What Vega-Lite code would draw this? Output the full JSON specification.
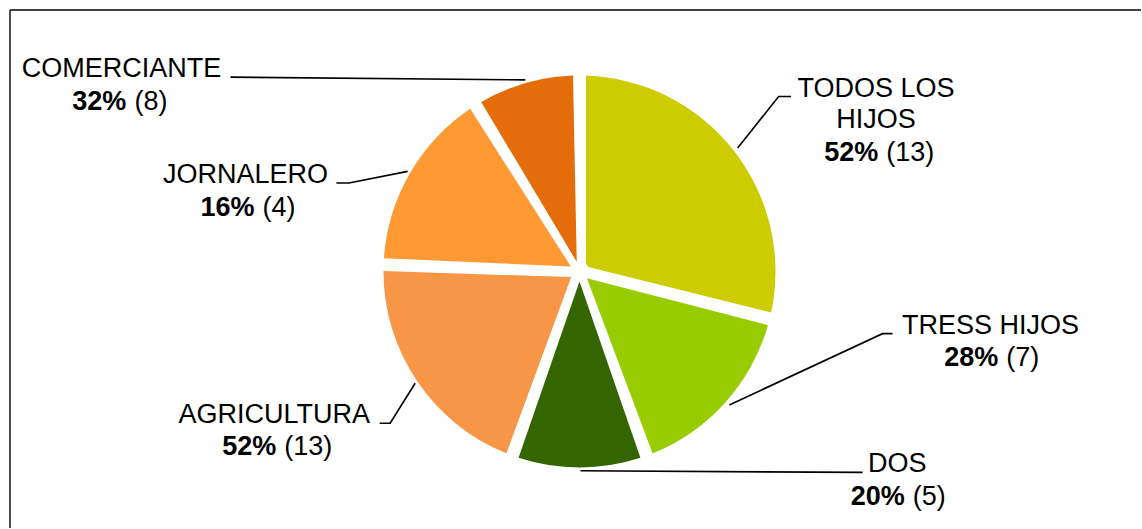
{
  "$schema": "https://vega.github.io/schema/vega-lite/v6.json",
  "width": 1142,
  "height": 529,
  "autosize": {"type": "fit", "contains": "padding"},
  "padding": 0,
  "background": "white",
  "config": {"view": {"stroke": null}, "font": "Liberation Sans"},
  "datasets": {
    "sectores": [
      {"categoria": "TODOS LOS HIJOS", "valor": 13, "orden": 1},
      {"categoria": "TRESS HIJOS", "valor": 7, "orden": 2},
      {"categoria": "DOS", "valor": 5, "orden": 3},
      {"categoria": "AGRICULTURA", "valor": 9, "orden": 4},
      {"categoria": "JORNALERO", "valor": 7, "orden": 5},
      {"categoria": "COMERCIANTE", "valor": 4, "orden": 6}
    ],
    "nombres": [
      {"t": "COMERCIANTE", "x": -458.5, "y": 194.7},
      {"t": "JORNALERO", "x": -334.2, "y": 88.7},
      {"t": "TODOS LOS", "x": 296.7, "y": 175.3},
      {"t": "HIJOS", "x": 296.7, "y": 143.7},
      {"t": "TRESS HIJOS", "x": 411.3, "y": -62.3},
      {"t": "DOS", "x": 318, "y": -201.3},
      {"t": "AGRICULTURA", "x": -305.5, "y": -152}
    ],
    "cifras": [
      {"pct": "32%", "n": "(8)", "x": -449.5, "y": 162},
      {"pct": "16%", "n": "(4)", "x": -321.2, "y": 56},
      {"pct": "52%", "n": "(13)", "x": 303, "y": 110.3},
      {"pct": "28%", "n": "(7)", "x": 423.2, "y": -94.7},
      {"pct": "20%", "n": "(5)", "x": 329.5, "y": -233.7},
      {"pct": "52%", "n": "(13)", "x": -299.5, "y": -184}
    ],
    "guias": [
      {"id": "COMERCIANTE", "k": 1, "x": -349.3, "y": 194.7},
      {"id": "COMERCIANTE", "k": 2, "x": -54.3, "y": 192},
      {"id": "JORNALERO", "k": 1, "x": -243.3, "y": 88.7},
      {"id": "JORNALERO", "k": 2, "x": -230.7, "y": 88.7},
      {"id": "JORNALERO", "k": 3, "x": -172, "y": 100.3},
      {"id": "TODOS", "k": 1, "x": 211.7, "y": 175.3},
      {"id": "TODOS", "k": 2, "x": 199.3, "y": 175.3},
      {"id": "TODOS", "k": 3, "x": 158.3, "y": 123.7},
      {"id": "TRESS", "k": 1, "x": 313.3, "y": -62.3},
      {"id": "TRESS", "k": 2, "x": 303.3, "y": -62.3},
      {"id": "TRESS", "k": 3, "x": 150, "y": -133.7},
      {"id": "DOS", "k": 1, "x": 283.3, "y": -201.3},
      {"id": "DOS", "k": 2, "x": 1, "y": -199.7},
      {"id": "AGRI", "k": 1, "x": -200, "y": -152},
      {"id": "AGRI", "k": 2, "x": -189.5, "y": -152},
      {"id": "AGRI", "k": 3, "x": -164.5, "y": -112}
    ],
    "marco": [
      {"x": -570, "y": 262, "x2": -570, "y2": -257},
      {"x": -570, "y": 262, "x2": 562, "y2": 262}
    ]
  },
  "layer": [
    {
      "data": {"name": "marco"},
      "mark": {"type": "rule", "color": "#000000", "strokeWidth": 1.4},
      "encoding": {
        "x": {"field": "x", "type": "quantitative", "axis": null, "scale": {"domain": [-580, 562], "nice": false, "zero": false}},
        "y": {"field": "y", "type": "quantitative", "axis": null, "scale": {"domain": [-257, 272], "nice": false, "zero": false}},
        "x2": {"field": "x2"},
        "y2": {"field": "y2"}
      }
    },
    {
      "data": {"name": "sectores"},
      "mark": {"type": "arc", "radius": 196, "radius2": 10, "padAngle": 0.066},
      "encoding": {
        "theta": {"field": "valor", "type": "quantitative", "stack": true},
        "order": {"field": "orden", "type": "quantitative"},
        "color": {
          "field": "categoria",
          "type": "nominal",
          "legend": null,
          "scale": {
            "domain": ["TODOS LOS HIJOS", "TRESS HIJOS", "DOS", "AGRICULTURA", "JORNALERO", "COMERCIANTE"],
            "range": ["#CCCC00", "#99CC00", "#336600", "#F79646", "#FF9933", "#E46C0A"]
          }
        },
        "x": {"datum": 0, "type": "quantitative", "axis": null, "scale": {"domain": [-580, 562], "nice": false, "zero": false}},
        "y": {"datum": 0, "type": "quantitative", "axis": null, "scale": {"domain": [-257, 272], "nice": false, "zero": false}}
      }
    },
    {
      "data": {"name": "guias"},
      "mark": {"type": "line", "color": "#000000", "strokeWidth": 1.6},
      "encoding": {
        "x": {"field": "x", "type": "quantitative", "axis": null, "scale": {"domain": [-580, 562], "nice": false, "zero": false}},
        "y": {"field": "y", "type": "quantitative", "axis": null, "scale": {"domain": [-257, 272], "nice": false, "zero": false}},
        "detail": {"field": "id", "type": "nominal"},
        "order": {"field": "k", "type": "quantitative"}
      }
    },
    {
      "data": {"name": "nombres"},
      "mark": {"type": "text", "align": "center", "baseline": "alphabetic", "fontSize": 27, "font": "Liberation Sans", "color": "#000000"},
      "encoding": {
        "x": {"field": "x", "type": "quantitative", "axis": null, "scale": {"domain": [-580, 562], "nice": false, "zero": false}},
        "y": {"field": "y", "type": "quantitative", "axis": null, "scale": {"domain": [-257, 272], "nice": false, "zero": false}},
        "text": {"field": "t"}
      }
    },
    {
      "data": {"name": "cifras"},
      "mark": {"type": "text", "align": "right", "baseline": "alphabetic", "fontSize": 27, "fontWeight": "bold", "dx": -4, "font": "Liberation Sans", "color": "#000000"},
      "encoding": {
        "x": {"field": "x", "type": "quantitative", "axis": null, "scale": {"domain": [-580, 562], "nice": false, "zero": false}},
        "y": {"field": "y", "type": "quantitative", "axis": null, "scale": {"domain": [-257, 272], "nice": false, "zero": false}},
        "text": {"field": "pct"}
      }
    },
    {
      "data": {"name": "cifras"},
      "mark": {"type": "text", "align": "left", "baseline": "alphabetic", "fontSize": 27, "dx": 4, "font": "Liberation Sans", "color": "#000000"},
      "encoding": {
        "x": {"field": "x", "type": "quantitative", "axis": null, "scale": {"domain": [-580, 562], "nice": false, "zero": false}},
        "y": {"field": "y", "type": "quantitative", "axis": null, "scale": {"domain": [-257, 272], "nice": false, "zero": false}},
        "text": {"field": "n"}
      }
    }
  ]
}
